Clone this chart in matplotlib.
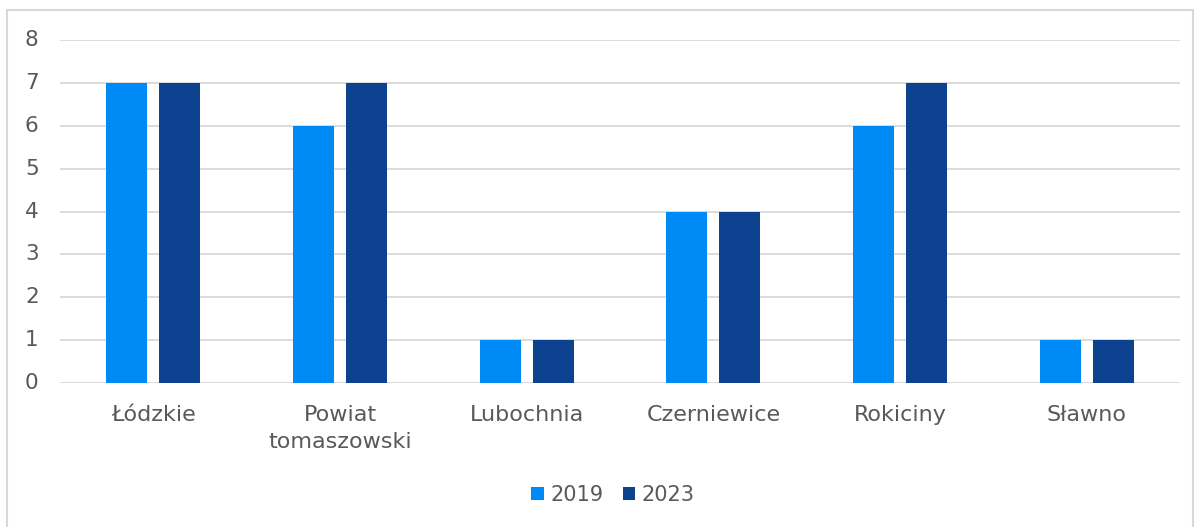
import matplotlib
matplotlib.use("Agg")
import matplotlib.pyplot as plt
import numpy as np
from matplotlib.patches import Rectangle

categories = ["Łódzkie", "Powiat\ntomaszowski", "Lubochnia", "Czerniewice", "Rokiciny", "Sławno"]
series_names = ["2019", "2023"]
values_2019 = [7, 6, 1, 4, 6, 1]
values_2023 = [7, 7, 1, 4, 7, 1]
colors = ["#008AF5", "#0D4290"]

plt.rcParams['font.family'] = ['DejaVu Sans']
text_color = "#595959"

fig = plt.figure(figsize=(11.98, 5.27), dpi=100)
ax = fig.add_axes([60/1198, 1 - 383/527, 1120/1198, 343/527])

x = np.arange(len(categories))
w = 0.22
off = 0.142
ax.bar(x - off, values_2019, w, color=colors[0], label=series_names[0], zorder=3)
ax.bar(x + off, values_2023, w, color=colors[1], label=series_names[1], zorder=3)

ax.set_xlim(-0.5, len(categories) - 0.5)
ax.set_ylim(0, 8)
ax.set_yticks(range(0, 9))
ax.grid(axis='y', color="#D9D9D9", linewidth=1.3, zorder=0)
for s in ax.spines.values():
    s.set_visible(False)
ax.tick_params(axis='y', length=0, labelsize=15.5, colors=text_color)
ax.tick_params(axis='x', length=0, labelsize=16, colors=text_color, pad=16)
ax.set_xticks(x)
ax.set_xticklabels(categories, linespacing=1.45)
for lab in ax.get_yticklabels():
    lab.set_transform(matplotlib.transforms.blended_transform_factory(fig.transFigure, ax.transData))
    lab.set_x(25/1198)
    lab.set_horizontalalignment('left')
    lab.set_verticalalignment('center')

leg = fig.legend(loc='center', bbox_to_anchor=(613/1198, 1 - 495/527), ncol=2, frameon=False,
                 fontsize=15, labelcolor=text_color, handlelength=0.6, handleheight=0.6,
                 handletextpad=0.3, columnspacing=0.95)

fig.patches.append(Rectangle((7/1198, -0.01), 1186/1198, 1 - 10/527 + 0.01, transform=fig.transFigure,
                             fill=False, edgecolor="#D9D9D9", linewidth=1.5))

fig.savefig("out.png", dpi=100)
